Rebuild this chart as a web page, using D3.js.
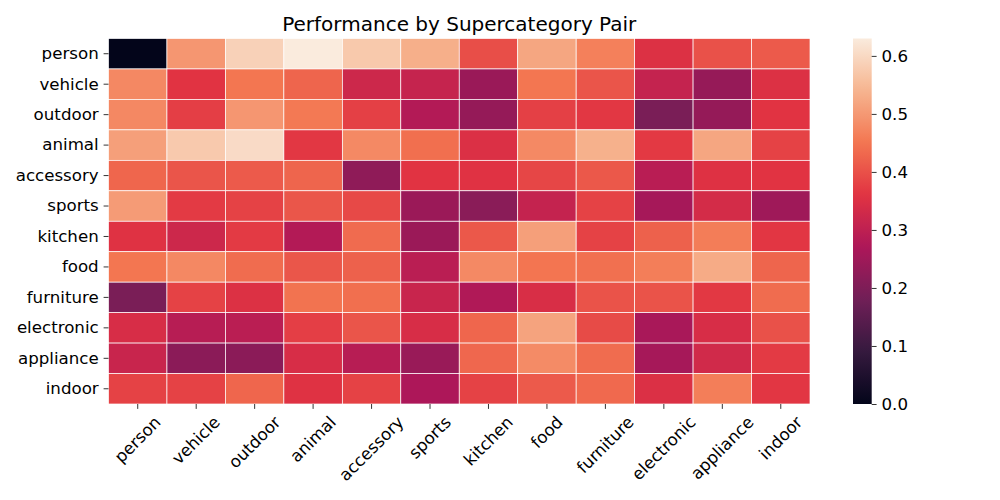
<!DOCTYPE html>
<html><head><meta charset="utf-8">
<script src="https://cdn.jsdelivr.net/npm/d3@7/dist/d3.min.js"></script>
<style>body{margin:0;background:#fff}svg{font-family:"DejaVu Sans",sans-serif}</style>
</head><body><svg id="c" width="1000" height="500"></svg>
<script>
const categories = ["person","vehicle","outdoor","animal","accessory","sports","kitchen","food","furniture","electronic","appliance","indoor"];
const rowPerson     = [0.000,0.497,0.587,0.630,0.574,0.533,0.396,0.519,0.465,0.352,0.400,0.413];
const rowVehicle    = [0.476,0.360,0.450,0.427,0.324,0.312,0.242,0.450,0.405,0.310,0.236,0.352];
const rowOutdoor    = [0.476,0.375,0.497,0.455,0.377,0.280,0.235,0.377,0.365,0.195,0.235,0.360];
const rowAnimal     = [0.510,0.575,0.603,0.365,0.478,0.440,0.349,0.478,0.535,0.368,0.520,0.380];
const rowAccessory  = [0.428,0.406,0.413,0.427,0.226,0.360,0.358,0.385,0.410,0.290,0.355,0.360];
const rowSports     = [0.503,0.370,0.380,0.407,0.390,0.244,0.218,0.310,0.380,0.260,0.336,0.250];
const rowKitchen    = [0.356,0.324,0.370,0.280,0.435,0.244,0.410,0.510,0.380,0.422,0.460,0.364];
const rowFood       = [0.450,0.476,0.436,0.407,0.422,0.293,0.478,0.448,0.442,0.462,0.527,0.427];
const rowFurniture  = [0.195,0.380,0.352,0.446,0.440,0.316,0.276,0.345,0.403,0.403,0.367,0.436];
const rowElectronic = [0.342,0.288,0.293,0.375,0.406,0.342,0.428,0.515,0.392,0.264,0.342,0.400];
const rowAppliance  = [0.316,0.220,0.220,0.342,0.288,0.240,0.430,0.480,0.436,0.259,0.330,0.370];
const rowIndoor     = [0.380,0.380,0.428,0.356,0.380,0.270,0.380,0.413,0.433,0.349,0.462,0.364];
const matrix = [rowPerson,rowVehicle,rowOutdoor,rowAnimal,rowAccessory,rowSports,rowKitchen,rowFood,rowFurniture,rowElectronic,rowAppliance,rowIndoor];
const cbTicks = [0.0,0.1,0.2,0.3,0.4,0.5,0.6];
const title = "Performance by Supercategory Pair";

// rocket colormap stops
const rocketStops = ["#03051a","#35193e","#701f57","#ad1759","#e13342","#f37651","#f6b48f","#faebdd"];
const rocket = d3.scaleLinear().domain(d3.range(rocketStops.length).map(i=>i/(rocketStops.length-1))).range(rocketStops).interpolate(d3.interpolateRgb);

const svg = d3.select("#c");
const L=108.5, R=810, T=38.5, B=404;
const vmin = d3.min(matrix.flat()), vmax = d3.max(matrix.flat());
const color = v => rocket((v-vmin)/(vmax-vmin));

const x = d3.scaleBand().domain(categories).range([L,R]);
const y = d3.scaleBand().domain(categories).range([T,B]);

const cells = [];
matrix.forEach((row,i)=>row.forEach((v,j)=>cells.push({r:categories[i],c:categories[j],v})));
svg.append("g").selectAll("rect").data(cells).join("rect")
  .attr("x",d=>x(d.c)).attr("y",d=>y(d.r))
  .attr("width",x.bandwidth()).attr("height",y.bandwidth())
  .attr("fill",d=>color(d.v)).attr("stroke","#fff").attr("stroke-width",0.7);

// y axis
const yAxis = svg.append("g").attr("transform",`translate(${L},0)`)
  .call(d3.axisLeft(y).tickSize(4.9).tickPadding(4.9));
yAxis.select(".domain").remove();
yAxis.selectAll("line").attr("stroke","#000").attr("stroke-width",0.8);
yAxis.selectAll("text").attr("font-size","16.67px").attr("fill","#000").attr("font-family","DejaVu Sans");

// x axis
const xAxis = svg.append("g").attr("transform",`translate(0,${B})`)
  .call(d3.axisBottom(x).tickSize(4.9).tickFormat(""));
xAxis.select(".domain").remove();
xAxis.selectAll("line").attr("stroke","#000").attr("stroke-width",0.8);
const xl = svg.append("g").selectAll("text").data(categories).join("text")
  .attr("font-size","16.67px").attr("fill","#000").attr("text-anchor","middle")
  .attr("dominant-baseline","central").text(d=>d);
xl.each(function(d){
  const w = this.getComputedTextLength(), h = 16.67*0.95;
  const half = (w+h)/(2*Math.SQRT2);
  const cx = x(d)+x.bandwidth()/2, cy = B+4.9+4.9+half;
  d3.select(this).attr("transform",`translate(${cx},${cy}) rotate(-45)`);
});

// title
svg.append("text").attr("x",(L+R)/2).attr("y",30.5).attr("text-anchor","middle")
  .attr("font-size","20px").attr("fill","#000").text(title);

// colorbar
const cbX=853, cbW=18.7;
const cy = d3.scaleLinear().domain([vmin,vmax]).range([B,T]);
const defs = svg.append("defs");
const grad = defs.append("linearGradient").attr("id","cbg").attr("x1",0).attr("y1",1).attr("x2",0).attr("y2",0);
d3.range(0,1.0001,0.02).forEach(t=>grad.append("stop").attr("offset",t).attr("stop-color",rocket(t)));
svg.append("rect").attr("x",cbX).attr("y",T).attr("width",cbW).attr("height",B-T).attr("fill","url(#cbg)");
const cbAxis = svg.append("g").attr("transform",`translate(${cbX+cbW},0)`)
  .call(d3.axisRight(cy).tickValues(cbTicks).tickFormat(d3.format(".1f")).tickSize(4.9).tickPadding(4.9));
cbAxis.select(".domain").remove();
cbAxis.selectAll("line").attr("stroke","#000").attr("stroke-width",0.8);
cbAxis.selectAll("text").attr("font-size","16.67px").attr("fill","#000").attr("font-family","DejaVu Sans");
</script></body></html>
